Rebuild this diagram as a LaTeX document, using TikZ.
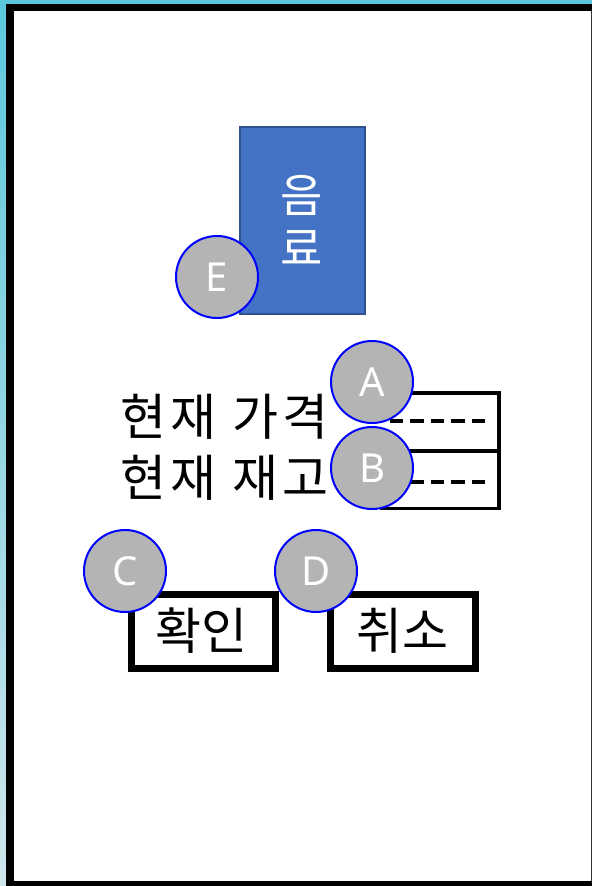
\documentclass[tikz,border=0pt]{standalone}
\usepackage{fontspec}
\setmainfont{Noto Sans}
\newfontfamily\kr{Noto Sans CJK KR}
\newfontfamily\krwide[LetterSpace=9]{Noto Sans CJK KR}
\definecolor{cyanbg}{HTML}{5BC8DC}
\definecolor{cyanlt}{HTML}{D0E6EC}
\definecolor{drinkblue}{HTML}{4472C4}
\definecolor{drinkedge}{HTML}{2F528F}
\definecolor{circgray}{HTML}{B4B4B4}
\tikzset{
  circ/.style={circle, draw=blue, line width=2pt, fill=circgray, minimum size=82pt, inner sep=0pt, text=white, font=\fontsize{40}{44}\selectfont},
  krtext/.style={inner sep=0pt, font=\kr\fontsize{50}{60}\selectfont},
  krlabel/.style={inner sep=0pt, font=\krwide\fontsize{50}{60}\selectfont},
  btn/.style={draw=black, line width=7pt, fill=white},
  field/.style={draw=black, line width=3.5pt},
  dashline/.style={line width=4pt, dash pattern=on 13.5pt off 7pt}
}
\begin{document}
\begin{tikzpicture}[x=1pt,y=-1pt]
\useasboundingbox (0,0) rectangle (592,886);
% background frame
\shade[top color=cyanbg, bottom color=cyanlt] (0,0) rectangle (6,886);
\fill[cyanbg] (0,0) rectangle (592,4);
\fill[black] (6,4) rectangle (592,886);
\fill[white] (14,11) rectangle (590.5,881);
\fill[black!80] (590.5,11) rectangle (592,881);

% drink box
\node[draw=drinkedge, line width=2pt, fill=drinkblue, minimum width=125pt, minimum height=187pt, inner sep=0pt] (drink) at (302.5,220.5) {};
\node[inner sep=0pt, anchor=base, text=white, font=\kr\fontsize{46}{56}\selectfont] (eum) at (302,212) {음};
\node[inner sep=0pt, anchor=base, text=white, font=\kr\fontsize{46}{56}\selectfont] (ryo) at (302,265) {료};

% labels
\node[krlabel, anchor=base west] (price) at (120,435.5) {현재 가격};
\node[krlabel, anchor=base west] (stock) at (120,496) {현재 재고};

% fields (left edges lie under the markers)
\coordinate (f1) at (380,393);
\coordinate (f2) at (499,393);
\coordinate (f3) at (499,508.5);
\coordinate (f4) at (380,508.5);
\coordinate (m1) at (380,451);
\coordinate (m2) at (499,451);
\draw[field, line join=miter] (f1) -- (f2) -- (f3) -- (f4);
\draw[field] (m1) -- (m2);
\coordinate (p1) at (383,421);
\coordinate (p2) at (485,421);
\coordinate (q1) at (383,482);
\coordinate (q2) at (485,482);
\draw[dashline] (p2) -- (p1);
\draw[dashline] (q2) -- (q1);

% buttons
\draw[btn] (131.5,594.5) rectangle (275.5,668.5);
\draw[btn] (330.5,594.5) rectangle (475.5,668.5);
\node[krtext, anchor=base] (ok) at (201,649.5) {확인};
\node[krtext, anchor=base] (cancel) at (402,649.5) {취소};

% markers
\node[circ] (E) at (217,277) {E};
\node[circ] (A) at (372,382) {A};
\node[circ] (B) at (372,468) {B};
\node[circ] (C) at (125,571) {C};
\node[circ] (D) at (316,571) {D};
\end{tikzpicture}
\end{document}
